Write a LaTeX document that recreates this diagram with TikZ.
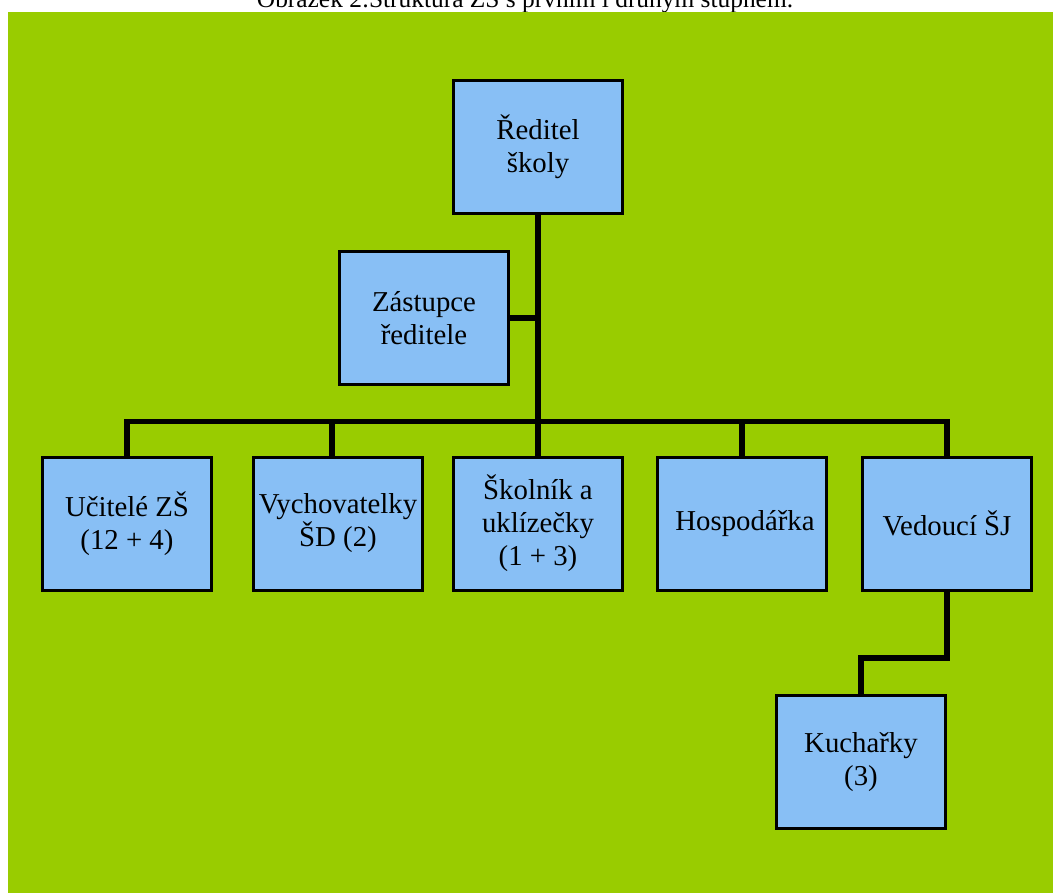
\documentclass[tikz,border=0pt]{standalone}
\usepackage{fontspec}
\setmainfont{Liberation Serif}
\definecolor{bggreen}{RGB}{153,204,0}
\definecolor{boxblue}{RGB}{136,191,245}
\tikzset{
  orgbox/.style={draw=black, line width=3pt, fill=boxblue, rectangle,
    minimum width=169pt, minimum height=133pt, inner sep=0pt,
    align=center, font=\fontsize{28.8}{33}\selectfont},
  conn/.style={draw=black, line width=5.5pt, line join=miter}
}
\begin{document}
\begin{tikzpicture}[x=1pt, y=-1pt]
\useasboundingbox (0,0) rectangle (1053,893);
% caption, cut off at the top edge
\begin{scope}
  \clip (0,0) rectangle (1053,12);
  \node[anchor=base, inner sep=0pt, font=\fontsize{25.4}{30}\selectfont] (cap) at (525,7.5)
    {Obrázek 2:Struktura ZŠ s prvním i druhým stupněm.};
\end{scope}
% background panel
\fill[bggreen] (8,12) rectangle (1053,893);

% boxes
\node[orgbox] (red)  at (538,147)   {Ředitel\\školy};
\node[orgbox] (zast) at (424,318)   {Zástupce\\ředitele};
\node[orgbox] (uc)   at (127,523.5) {Učitelé ZŠ\\(12 + 4)};
\node[orgbox] (vych) at (338,523.5) {Vychovatelky\\ŠD (2)};
\node[orgbox] (skol) at (538,523.5) {Školník a\\uklízečky\\(1 + 3)};
\node[orgbox] (hosp) at (742,523.5) {\hspace*{6pt}Hospodářka};
\node[orgbox] (ved)  at (947,523.5) {Vedoucí ŠJ};
\node[orgbox] (kuch) at (861,762)   {Kuchařky\\(3)};

% junction points of the connectors
\coordinate (bus) at (538,421.5);
\coordinate (kbend) at (947,658);

% connectors
\draw[conn] (red.south) -- (bus);
\draw[conn] (zast.east) -- (zast.east -| red.south);
\draw[conn] (uc.north) |- (bus);
\draw[conn] ([xshift=-6pt]vych.north) |- (bus);
\draw[conn] (skol.north) -- (bus);
\draw[conn] (hosp.north) |- (bus);
\draw[conn] (ved.north) |- (bus);
\draw[conn] (ved.south) -- (kbend) -| (kuch.north);
\end{tikzpicture}
\end{document}
